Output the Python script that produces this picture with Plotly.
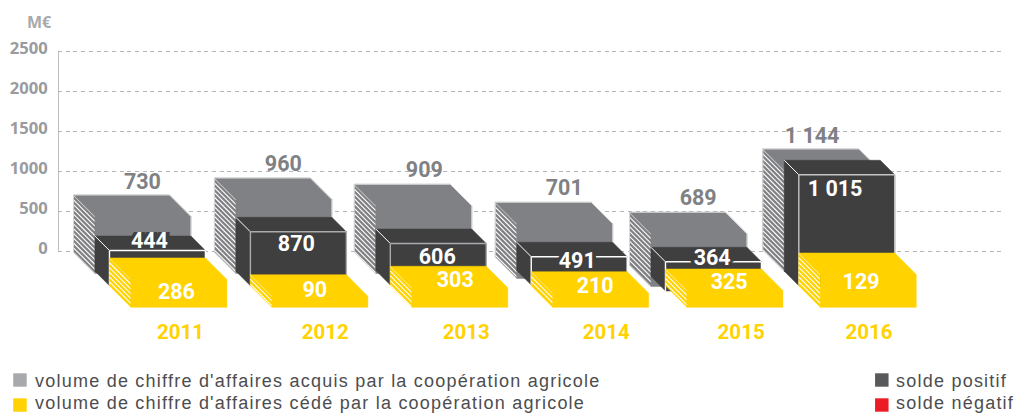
import plotly.graph_objects as go

# ---------- data (M€, as labelled and as drawn against the axis) ----------
years = ["2011", "2012", "2013", "2014", "2015", "2016"]
acquis_labels = ["730", "960", "909", "701", "689", "1 144"]
solde_labels = ["444", "870", "606", "491", "364", "1 015"]
cede_labels = ["286", "90", "303", "210", "325", "129"]
gray_top = [700, 912, 834, 609, 484, 1275]
gray_bottom = [-12, -12, -12, -75, -175, 12]
dark_top = [187, 421, 275, 109, 46, 1134]
dark_bottom = [-434, -434, -425, -425, -500, -434]
yellow_top = [-87, -296, -191, -259, -225, -25]
yellow_bottom = [-704, -704, -704, -704, -704, -704]
y_ticks = [0, 500, 1000, 1500, 2000, 2500]
legend_left = ["volume de chiffre d'affaires acquis par la coopération agricole",
               "volume de chiffre d'affaires cédé par la coopération agricole"]
legend_right = ["solde positif", "solde négatif"]

# ---------- layout / style ----------
W, H = 1016, 414
PLOT_L, PLOT_R = 57.5, 1004
PX = 0.08  # pixels per M€
Y0 = 251
GRAY, DARK, YELLOW = "#808184", "#3f3f3f", "#FFD200"
TXT = "#9a9b9e"
bar_left = [73, 214, 354, 495, 629.3, 762.7]
edge_col = ["#ffffff", "#a9abae", "#a9abae", "#ffffff", "#ffffff", "#c4c5c7"]
BW = 96
D1, D2 = 21.5, 14.5
acq_pos = [142, 283, 424, 564, 698, 812]
acq_py = [182, 164, 170, 188, 198, 136]
sol_pos = [149, 296, 437, 577, 712, 835]
sol_py = [240.5, 244, 256.5, 260.5, 257.5, 189]
ced_pos = [176, 314.5, 455, 595, 729, 861]
ced_py = [291.5, 290, 280, 286, 282, 282]
yr_pos = [180, 325, 466, 606, 741, 869]
FONT = "Roboto"
TEXT_DY = 1.8


def py(p):
    return (Y0 - p) / PX


def paper_x(p):
    return (p - PLOT_L) / (PLOT_R - PLOT_L)


DY1, DY2 = D1 / PX, D2 / PX
fig = go.Figure()


def poly(xs, ys, color):
    fig.add_trace(go.Scatter(x=xs + xs[:1], y=ys + ys[:1], mode="lines", fill="toself",
                             fillcolor=color, line=dict(color=color, width=0.5),
                             hoverinfo="skip", showlegend=False))


def lines(segs, color, width=1.0):
    xs, ys = [], []
    for a, b in segs:
        xs += [a[0], b[0], None]
        ys += [a[1], b[1], None]
    fig.add_trace(go.Scatter(x=xs, y=ys, mode="lines", line=dict(color=color, width=width),
                             hoverinfo="skip", showlegend=False))


def hatch(x0, top, bottom, dx, dy, step, color, width):
    segs = []
    y = top
    while y > bottom:
        segs.append(((x0, y), (x0 + dx, y - dy)))
        y -= step
    lines(segs, color, width)


for i, L in enumerate(bar_left):
    # gray block
    gt, gb = gray_top[i], gray_bottom[i]
    poly([L, L + D1, L + D1, L], [gt, gt - DY1, gb - DY1, gb], GRAY)
    hatch(L, gt, gb, D1, DY1, 4.8 / PX, "#ffffff", 1.1)
    poly([L + D1, L, L + BW, L + BW + D1, L + BW + D1, L + D1],
         [gt - DY1, gt, gt, gt - DY1, gb - DY1, gb - DY1], GRAY)
    lines([((L, gt), (L + BW, gt)), ((L + BW, gt), (L + BW + D1, gt - DY1)),
           ((L + BW + D1, gt - DY1), (L + BW + D1, gb - DY1)),
           ((L, gt), (L, gb)), ((L, gb), (L + D1, gb - DY1))], "#d6d7d8", 1)

    # dark block
    dx0 = L + D1
    fx0 = dx0 + D2
    dt, db = dark_top[i], dark_bottom[i]
    poly([dx0, fx0, fx0, dx0], [dt, dt - DY2, db, db + DY2], DARK)
    poly([dx0, dx0 + BW, fx0 + BW, fx0], [dt, dt, dt - DY2, dt - DY2], DARK)
    poly([fx0, fx0 + BW, fx0 + BW, fx0], [dt - DY2, dt - DY2, db, db], DARK)
    lines([((dx0, dt), (fx0, dt - DY2))], "#ffffff", 1)
    lines([((fx0, dt - DY2), (fx0 + BW, dt - DY2)), ((fx0, dt - DY2), (fx0, db)),
           ((fx0 + BW, dt - DY2), (fx0 + BW, yellow_top[i]))], edge_col[i], 1.4)

    # yellow block
    yt, yb = yellow_top[i], yellow_bottom[i]
    poly([fx0, fx0 + D1, fx0 + D1, fx0], [yt, yt - DY1, yb, yb + DY1], YELLOW)
    hatch(fx0, yt, yb + DY1, D1, DY1, 4.8 / PX, "#ffffff", 1.1)
    poly([fx0 + D1, fx0, fx0 + BW, fx0 + BW + D1, fx0 + BW + D1, fx0 + D1],
         [yt - DY1, yt, yt, yt - DY1, yb, yb], YELLOW)

# axis line
fig.add_trace(go.Scatter(x=[PLOT_L, PLOT_L], y=[y_ticks[0], y_ticks[-1]], mode="lines",
                         line=dict(color="#a7a9ac", width=1.5), cliponaxis=False,
                         hoverinfo="skip", showlegend=False))


def labels(xs, pys, texts, color, size, shadow="none"):
    fig.add_trace(go.Scatter(x=xs, y=[py(p + TEXT_DY) for p in pys], text=texts, mode="text",
                             textposition="middle center", cliponaxis=False,
                             textfont=dict(family=FONT, size=size, color=color, weight=700,
                                           shadow=shadow),
                             hoverinfo="skip", showlegend=False))


labels(acq_pos, acq_py, acquis_labels, "#808184", 21.5)
halo = ", ".join(f"{a}px {b}px 0 {DARK}" for a, b in [(-4, 0), (4, 0), (-2, 0), (2, 0)])
labels(sol_pos, sol_py, solde_labels, "#ffffff", 21.5, halo)
labels(ced_pos, ced_py, cede_labels, "#ffffff", 21.5)
labels(yr_pos, [332] * 6, years, YELLOW, 20.5)

shapes = []
annotations = [dict(text="M€", xref="paper", yref="y", x=paper_x(52), y=py(21.5),
                    xanchor="right", yanchor="middle", showarrow=False, borderpad=0,
                    font=dict(family="Open Sans", size=16, color="#a7a9ac", weight=700))]


def legend(x_sq, x_txt, pys, text_pys, texts, colors):
    for p, tp, t, c in zip(pys, text_pys, texts, colors):
        shapes.append(dict(type="rect", xref="paper", yref="y", x0=paper_x(x_sq),
                           x1=paper_x(x_sq + 13.5), y0=py(p - 6.7), y1=py(p + 6.7),
                           fillcolor=c, line=dict(width=0), layer="above"))
        annotations.append(dict(text=t, xref="paper", yref="y", x=paper_x(x_txt), y=py(tp),
                                xanchor="left", yanchor="middle", align="left",
                                showarrow=False, borderpad=0,
                                font=dict(family="Liberation Sans", size=18, color="#4d4d4f")))


legend(12.7, 33.5, [380, 405], [380.5, 403.2], legend_left, ["#a7a9ac", YELLOW])
legend(875, 895, [380, 405], [380.5, 403.2], legend_right, ["#58595b", "#ED1C24"])

fig.update_layout(
    width=W, height=H, margin=dict(l=PLOT_L, r=W - PLOT_R, t=0, b=0, pad=0),
    plot_bgcolor="white", paper_bgcolor="white", showlegend=False,
    shapes=shapes, annotations=annotations,
    xaxis=dict(visible=False, range=[PLOT_L, PLOT_R], fixedrange=True),
    yaxis=dict(range=[py(H), py(0)], tickmode="array", tickvals=y_ticks, ticks="outside",
               ticklen=6, tickcolor="rgba(0,0,0,0)", showline=False, zeroline=False,
               showgrid=True, gridcolor="#b5b6b8", griddash="4px,3.7px", gridwidth=1,
               ticklabelshift=-3,
               tickfont=dict(family="Open Sans", size=16.6, color=TXT, weight=700),
               fixedrange=True),
)
fig.write_html("out.html", config=dict(displayModeBar=False),
               post_script="document.body.style.margin='0';"
                           "document.querySelectorAll('.annotation-text').forEach(function(t){"
                           "if(t.textContent!=='M€'){t.style.letterSpacing='1.23px';}});")
